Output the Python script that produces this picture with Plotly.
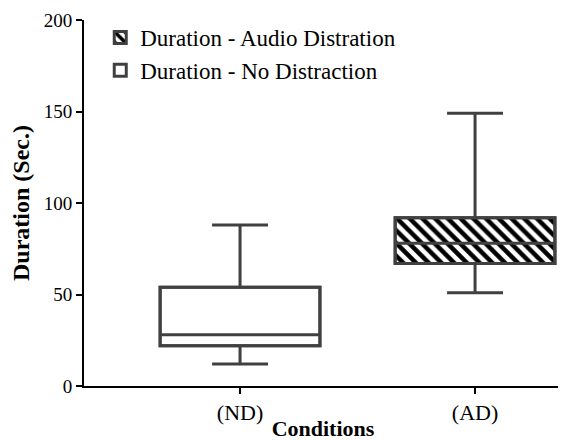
import plotly.graph_objects as go

categories = ["(ND)", "(AD)"]
xpos = [0, 1]
lower = [12, 51]
q1 = [22, 67]
median = [28, 78]
q3 = [54, 92]
upper = [88, 149]
legend_names = ["Duration - No Distraction", "Duration - Audio Distration"]

LINE = "#404040"
FONT = "Liberation Serif"
W = 0.68

fig = go.Figure()

# AD box fill (hatched) - legend first
fig.add_trace(go.Bar(
    x=[xpos[1]], base=[q1[1]], y=[q3[1] - q1[1]], width=W,
    name=legend_names[1],
    marker=dict(color="white", line=dict(color=LINE, width=3),
                pattern=dict(shape="\\", fgcolor="black", bgcolor="white",
                             size=9, solidity=0.5, fillmode="replace")),
    hoverinfo="skip",
))
# ND box fill (white)
fig.add_trace(go.Bar(
    x=[xpos[0]], base=[q1[0]], y=[q3[0] - q1[0]], width=W,
    name=legend_names[0],
    marker=dict(color="white", line=dict(color=LINE, width=3)),
    hoverinfo="skip",
))

for i in range(2):
    fig.add_trace(go.Box(
        x=[xpos[i]], q1=[q1[i]], median=[median[i]], q3=[q3[i]],
        lowerfence=[lower[i]], upperfence=[upper[i]],
        width=W, whiskerwidth=0.35,
        fillcolor="rgba(0,0,0,0)",
        line=dict(color=LINE, width=3),
        showlegend=False,
    ))

fig.update_layout(
    width=558, height=433,
    margin=dict(l=76, r=4, t=12, b=55),
    plot_bgcolor="white", paper_bgcolor="white",
    barmode="overlay",
    font=dict(family=FONT, size=18, color="black"),
    legend=dict(x=0.034, y=1.011, xanchor="left", yanchor="top",
                bgcolor="rgba(0,0,0,0)", font=dict(size=23, family=FONT),
                traceorder="normal", tracegroupgap=2),
    xaxis=dict(
        range=[-0.664, 1.37], tickvals=xpos, ticktext=categories,
        showline=True, linecolor="black", linewidth=2,
        ticks="outside", ticklen=6, tickwidth=2, tickcolor="black",
        showgrid=False, zeroline=False, automargin=False,
        title=dict(text="<b>Conditions</b>", standoff=0, font=dict(size=22)),
        tickfont=dict(size=22),
    ),
    yaxis=dict(
        range=[0, 200], tickvals=[0, 50, 100, 150, 200],
        showline=True, linecolor="black", linewidth=2,
        ticks="outside", ticklen=6, tickwidth=2, tickcolor="black",
        showgrid=False, zeroline=False, automargin=False,
        title=dict(text="<b>Duration (Sec.)</b>", standoff=9, font=dict(size=24)),
        tickfont=dict(size=19),
    ),
)

fig.write_html("out.html")
